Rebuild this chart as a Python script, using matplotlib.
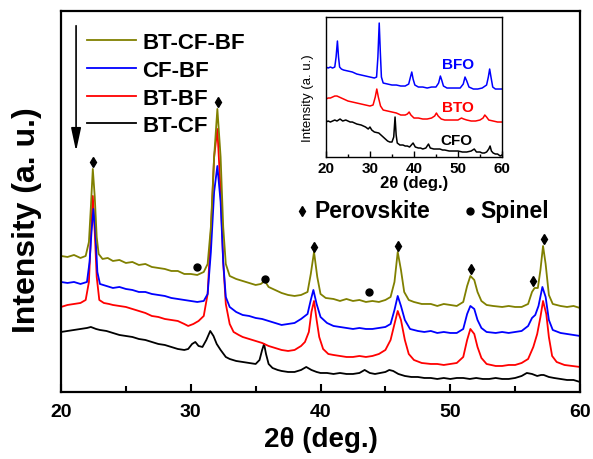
import matplotlib
matplotlib.use('Agg')
import matplotlib.pyplot as plt
from matplotlib.ticker import MultipleLocator

plt.rcParams['font.family'] = ['Liberation Sans', 'DejaVu Sans']
plt.rcParams['font.weight'] = 'bold'

# ---- main panel data (2theta, intensity a.u.) ----
bcb_x = [20.0, 20.5, 21.0, 21.5, 21.9, 22.15, 22.3, 22.45, 22.6, 22.75, 22.9, 23.2, 23.6, 24.0, 24.5, 25.0,
         25.5, 26.0, 26.5, 27.0, 27.5, 28.0, 28.5, 29.0, 29.5, 30.0, 30.5, 31.0, 31.3, 31.55, 31.8, 32.05,
         32.3, 32.5, 32.7, 33.0, 33.5, 34.0, 34.5, 35.0, 35.4, 35.7, 36.0, 36.5, 37.0, 37.5, 38.0, 38.5,
         39.0, 39.25, 39.5, 39.75, 40.0, 40.4, 41.0, 41.5, 42.0, 42.5, 43.0, 43.5, 44.0, 44.5, 45.0, 45.4,
         45.7, 45.95, 46.2, 46.45, 46.8, 47.2, 47.8, 48.5, 49.0, 49.5, 50.0, 50.5, 51.0, 51.3, 51.55, 51.85,
         52.1, 52.4, 52.8, 53.3, 54.0, 54.5, 55.0, 55.5, 56.0, 56.3, 56.5, 56.75, 56.95, 57.15, 57.35, 57.6,
         57.9, 58.5, 59.0, 59.5, 60.0]
bcb_y = [136, 135, 137, 134, 136, 150, 185, 223, 195, 155, 138, 133, 134, 131, 132, 129,
         130, 127, 128, 125, 124, 123, 121, 121, 118, 118, 117, 120, 128, 165, 235, 283,
         235, 165, 128, 116, 113, 111, 109, 107, 108, 111, 105, 102, 99, 97, 96, 97,
         100, 118, 140, 115, 98, 94, 93, 91, 93, 91, 92, 90, 91, 90, 92, 95,
         110, 140, 122, 100, 92, 90, 88, 88, 86, 88, 87, 86, 90, 106, 116, 112,
         100, 91, 87, 86, 85, 86, 85, 85, 88, 100, 104, 104, 122, 146, 128, 97,
         88, 86, 85, 86, 84]

cb_x = [20.0, 20.5, 21.0, 21.5, 22.0, 22.2, 22.35, 22.5, 22.65, 22.8, 23.0, 23.5, 24.0, 24.5, 25.0, 25.5,
        26.0, 26.5, 27.0, 27.5, 28.0, 28.5, 29.0, 29.5, 30.0, 30.5, 31.0, 31.3, 31.55, 31.8, 32.05, 32.3,
        32.5, 32.7, 33.0, 33.5, 34.0, 34.5, 35.0, 35.5, 36.0, 36.5, 37.0, 37.5, 38.0, 38.5, 39.0, 39.25,
        39.45, 39.7, 40.0, 40.5, 41.0, 41.5, 42.0, 42.5, 43.0, 43.5, 44.0, 44.5, 45.0, 45.4, 45.7, 45.95,
        46.2, 46.5, 46.9, 47.5, 48.0, 48.5, 49.0, 49.5, 50.0, 50.5, 51.0, 51.3, 51.55, 51.85, 52.1, 52.4,
        52.8, 53.5, 54.0, 54.5, 55.0, 55.5, 56.0, 56.3, 56.55, 56.8, 57.1, 57.35, 57.6, 57.9, 58.5, 59.0,
        59.5, 60.0]
cb_y = [110, 109, 110, 108, 110, 130, 160, 183, 160, 120, 108, 106, 104, 105, 103, 102,
        100, 100, 98, 97, 96, 94, 93, 92, 91, 90, 91, 98, 140, 200, 226, 190,
        130, 95, 85, 80, 77, 76, 74, 73, 71, 69, 67, 68, 69, 73, 78, 92,
        102, 88, 75, 69, 66, 65, 64, 63, 64, 63, 63, 64, 65, 68, 82, 96,
        86, 72, 63, 61, 60, 61, 59, 60, 59, 59, 63, 78, 86, 83, 72, 64,
        60, 59, 60, 59, 60, 61, 66, 74, 77, 86, 105, 95, 72, 62, 59, 58,
        57, 56]

bb_x = [20.0, 20.5, 21.0, 21.5, 21.9, 22.15, 22.3, 22.45, 22.6, 22.75, 22.95, 23.3, 23.7, 24.0, 24.5, 25.0,
        25.5, 26.0, 26.5, 27.0, 27.5, 28.0, 28.5, 29.0, 29.5, 29.8, 30.2, 30.6, 31.0, 31.3, 31.55, 31.8,
        32.05, 32.3, 32.5, 32.7, 33.0, 33.3, 33.7, 34.0, 34.5, 35.0, 35.5, 36.0, 36.5, 37.0, 37.5, 38.0,
        38.5, 38.8, 39.1, 39.3, 39.5, 39.7, 39.9, 40.2, 40.6, 41.0, 41.5, 42.0, 42.5, 43.0, 43.5, 44.0,
        44.5, 45.0, 45.4, 45.7, 45.95, 46.2, 46.5, 46.8, 47.2, 47.8, 48.5, 49.0, 49.5, 50.0, 50.5, 51.0,
        51.3, 51.55, 51.85, 52.1, 52.4, 52.8, 53.5, 54.0, 54.5, 55.0, 55.5, 56.0, 56.4, 56.7, 56.95, 57.15,
        57.4, 57.6, 57.85, 58.2, 58.8, 59.4, 60.0]
bb_y = [85, 87, 88, 89, 92, 110, 155, 196, 160, 115, 92, 89, 88, 87, 86, 85,
        83, 81, 79, 76, 75, 73, 72, 71, 68, 66, 68, 71, 76, 98, 160, 235,
        263, 200, 130, 88, 68, 60, 57, 55, 53, 51, 49, 46, 44, 42, 41, 42,
        46, 50, 60, 80, 91, 72, 55, 43, 38, 37, 36, 35, 35, 36, 35, 36,
        38, 42, 52, 68, 81, 72, 52, 38, 32, 29, 28, 28, 27, 28, 29, 35,
        52, 63, 58, 45, 34, 28, 26, 26, 27, 27, 29, 33, 45, 58, 75, 91,
        78, 55, 36, 30, 27, 26, 25]

bc_x = [20.0, 20.5, 21.0, 21.5, 22.0, 22.3, 22.7, 23.0, 23.5, 24.0, 24.5, 25.0, 25.5, 26.0, 26.5, 27.0,
        27.5, 28.0, 28.5, 29.0, 29.5, 29.8, 30.1, 30.35, 30.6, 30.9, 31.2, 31.5, 31.75, 32.0, 32.3, 32.7,
        33.0, 33.5, 34.0, 34.5, 35.0, 35.3, 35.5, 35.65, 35.8, 36.0, 36.3, 36.7, 37.0, 37.5, 38.0, 38.5,
        38.9, 39.3, 39.7, 40.0, 40.5, 41.0, 41.5, 42.0, 42.5, 43.0, 43.4, 43.8, 44.2, 44.6, 45.0, 45.3,
        45.6, 46.0, 46.5, 47.0, 47.5, 48.0, 48.5, 49.0, 49.5, 50.0, 50.5, 51.0, 51.5, 52.0, 52.5, 53.0,
        53.5, 54.0, 54.5, 55.0, 55.5, 55.9, 56.3, 56.7, 57.0, 57.2, 57.6, 58.0, 58.5, 59.0, 59.5, 60.0]
bc_y = [60, 61, 62, 63, 64, 65, 63, 62, 61, 59, 57, 56, 55, 53, 52, 50,
        48, 47, 45, 43, 42, 43, 48, 50, 46, 45, 52, 61, 56, 48, 42, 35,
        33, 31, 30, 29, 28, 32, 42, 48, 38, 28, 24, 22, 21, 20, 20, 22,
        25, 22, 20, 19, 19, 18, 19, 18, 18, 19, 22, 19, 18, 19, 20, 22,
        21, 18, 16, 15, 15, 14, 14, 13, 14, 13, 14, 14, 13, 14, 13, 13,
        14, 13, 13, 14, 16, 19, 18, 16, 17, 17, 15, 14, 13, 12, 12, 10]

labels = ['BT-CF', 'BT-BF', 'CF-BF', 'BT-CF-BF']
colors = ['black', '#ff0000', '#0000ff', '#808000']

# phase markers
perov_x = [22.5, 32.1, 39.5, 46.0, 51.6, 56.35, 57.2]
perov_y = [230, 290, 145, 146, 123, 111, 153]
spinel_x = [30.45, 35.7, 43.75]
spinel_y = [125, 113, 100]

# ---- inset data ----
bfo_x = [20.0, 20.5, 21.0, 21.5, 22.0, 22.3, 22.6, 22.85, 23.1, 23.5, 24.0, 25.0, 26.0, 27.0, 28.0, 29.0,
         30.0, 31.0, 31.5, 31.8, 32.1, 32.35, 32.6, 33.0, 34.0, 35.0, 36.0, 37.0, 38.0, 38.8, 39.2, 39.5,
         39.8, 40.2, 41.0, 42.0, 43.0, 44.0, 45.0, 45.6, 46.0, 46.3, 46.7, 47.5, 48.5, 49.5, 50.5, 51.2,
         51.6, 52.0, 52.5, 53.5, 54.5, 55.5, 56.5, 56.9, 57.2, 57.5, 57.9, 58.5, 59.5, 60.0]
bfo_y = [90, 89, 90, 89, 90, 100, 116, 100, 90, 88, 87, 86, 85, 83, 82, 81,
         80, 79, 80, 100, 134, 105, 80, 74, 73, 72, 72, 71, 71, 73, 80, 85,
         78, 72, 70, 70, 69, 70, 70, 74, 81, 77, 71, 69, 69, 69, 69, 73,
         80, 76, 70, 68, 68, 69, 72, 80, 88, 80, 70, 68, 68, 68]

bto_x = [20.0, 20.5, 21.0, 21.5, 22.0, 22.5, 23.0, 23.5, 24.0, 25.0, 26.0, 27.0, 28.0, 29.0, 30.0, 30.7,
         31.2, 31.55, 31.9, 32.4, 33.0, 34.0, 35.0, 36.0, 37.0, 38.0, 38.5, 38.9, 39.3, 40.0, 41.0, 42.0,
         43.0, 44.0, 44.7, 45.1, 45.5, 46.2, 47.0, 48.0, 49.0, 50.0, 50.8, 51.3, 52.0, 53.0, 54.0, 55.0,
         55.7, 56.1, 56.5, 57.0, 58.0, 59.0, 60.0]
bto_y = [58, 59, 59, 60, 61, 61, 60, 59, 58, 56, 55, 54, 53, 52, 51, 52,
         60, 68, 60, 51, 47, 46, 45, 44, 42, 42, 43, 45, 42, 39, 39, 38,
         38, 39, 41, 44, 41, 38, 37, 37, 37, 37, 39, 38, 37, 36, 36, 37,
         39, 42, 40, 37, 36, 35, 35]

cfo_x = [20.0, 20.5, 21.0, 21.5, 22.0, 22.5, 23.2, 23.8, 24.5, 25.0, 25.5, 26.0, 27.0, 28.0, 28.5, 29.0,
         29.6, 30.0, 30.4, 31.0, 32.0, 32.5, 33.0, 33.5, 34.0, 34.5, 35.0, 35.4, 35.7, 35.95, 36.2, 36.8,
         37.5, 38.0, 38.5, 39.0, 39.8, 40.3, 41.0, 41.5, 42.0, 42.7, 43.3, 43.7, 44.5, 45.0, 45.9, 46.5,
         47.0, 48.0, 49.0, 50.0, 51.0, 52.0, 53.0, 53.7, 54.2, 55.0, 55.5, 56.0, 56.5, 57.0, 57.3, 57.6,
         58.0, 58.5, 59.0, 59.6, 60.0]
cfo_y = [35, 36, 35, 36, 37, 36, 38, 36, 37, 36, 35, 35, 33, 32, 31, 30,
         28, 30, 27, 25, 24, 22, 20, 18, 16, 15, 15, 20, 40, 22, 14, 12,
         12, 11, 11, 10, 14, 10, 9, 9, 8, 9, 13, 9, 8, 8, 8, 7,
         7, 6, 6, 6, 5, 5, 6, 8, 5, 5, 4, 4, 5, 8, 11, 6,
         4, 3, 3, 1, 2]

fig = plt.figure(figsize=(5.93, 4.6), dpi=100)
ax = fig.add_axes([0.1029, 0.1457, 0.8752, 0.8283])

lines = []
for xs, ys, lab, c in zip([bc_x, bb_x, cb_x, bcb_x], [bc_y, bb_y, cb_y, bcb_y], labels, colors):
    ln, = ax.plot(xs, ys, color=c, lw=1.3, label=lab)
    lines.append(ln)

ax.plot(perov_x, perov_y, 'd', color='black', ms=5, ls='none')
ax.plot(spinel_x, spinel_y, 'o', color='black', ms=5, ls='none')

ax.set_xlim(20, 60)
ax.set_ylim(0, 381)
ax.xaxis.set_major_locator(MultipleLocator(10))
ax.xaxis.set_minor_locator(MultipleLocator(5))
ax.tick_params(axis='x', which='major', direction='in', length=6, width=1.5, labelsize=14, pad=8)
ax.tick_params(axis='x', which='minor', direction='in', length=4, width=1.5)
ax.set_yticks([])
for s in ax.spines.values():
    s.set_linewidth(1.6)
ax.set_xlabel('2θ (deg.)', fontsize=20, fontweight='bold', labelpad=4)
ax.set_ylabel('Intensity (a. u.)', fontsize=23, fontweight='bold')
ax.yaxis.set_label_coords(-0.036, 0.454)

leg = ax.legend(lines[::-1], labels[::-1], loc='upper left', bbox_to_anchor=(0.02, 0.985),
                frameon=False, prop={'size': 16, 'weight': 'bold'}, handlelength=2.2,
                handletextpad=0.3, labelspacing=0.3, borderpad=0.2)

ax.annotate('', xy=(21.16, 238), xytext=(21.16, 369),
            arrowprops=dict(arrowstyle='-|>,head_length=1.4,head_width=0.3', color='black', lw=1.2))

# phase key
ax.plot([38.55], [181], 'd', color='black', ms=5)
ax.text(39.5, 181, 'Perovskite', fontsize=16.5, fontweight='bold', va='center', ha='left')
ax.plot([51.5], [181], 'o', color='black', ms=5)
ax.text(52.35, 181, 'Spinel', fontsize=16.5, fontweight='bold', va='center', ha='left')

# ---- inset ----
ins = fig.add_axes([0.5497, 0.6565, 0.2968, 0.3043])
ins.plot(bfo_x, bfo_y, color='#0000ff', lw=1.1)
ins.plot(bto_x, bto_y, color='#ff0000', lw=1.1)
ins.plot(cfo_x, cfo_y, color='black', lw=1.1)
ins.set_xlim(20, 60)
ins.set_ylim(0, 140)
ins.xaxis.set_major_locator(MultipleLocator(10))
ins.xaxis.set_minor_locator(MultipleLocator(5))
ins.tick_params(axis='x', which='major', direction='in', length=4, width=1, labelsize=11, pad=3)
ins.tick_params(axis='x', which='minor', direction='in', length=2.5, width=1)
ins.set_yticks([])
for s in ins.spines.values():
    s.set_linewidth(1.0)
ins.set_xlabel('2θ (deg.)', fontsize=12, fontweight='bold', labelpad=0)
ins.set_ylabel('Intensity (a. u.)', fontsize=9.5, fontweight='normal', labelpad=3)
ins.yaxis.set_label_coords(-0.07, 0.43)
ins.text(50.0, 93, 'BFO', color='#0000ff', fontsize=11, fontweight='bold', ha='center', va='center')
ins.text(50.0, 50, 'BTO', color='#ff0000', fontsize=11, fontweight='bold', ha='center', va='center')
ins.text(49.7, 17, 'CFO', color='black', fontsize=11, fontweight='bold', ha='center', va='center')

fig.savefig('out.png', dpi=100)
